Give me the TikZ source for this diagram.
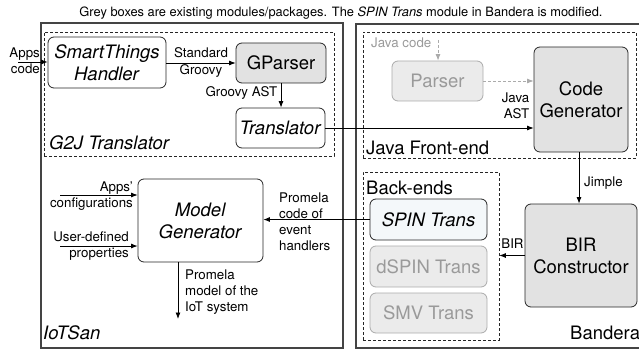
\documentclass[tikz,border=0pt]{standalone}
\usepackage{fontspec}
\setmainfont{TeX Gyre Heros}
\usetikzlibrary{arrows.meta}
\definecolor{boxgrey}{HTML}{E2E2E2}
\definecolor{paleGrey}{HTML}{EBEBEB}
\definecolor{fadeText}{HTML}{9A9A9A}
\definecolor{fadeLine}{HTML}{ABABAB}
\definecolor{spinFill}{HTML}{F4F8FA}
\definecolor{outerLine}{HTML}{444444}
\begin{document}
\begin{tikzpicture}[x=1pt,y=-1pt,
  big/.style={font=\fontsize{18.5}{22}\selectfont},
  small/.style={font=\fontsize{13.3}{16}\selectfont},
  module/.style={draw=black!85,line width=0.8pt,rounded corners=6pt,inner sep=0pt,align=center,big},
  greymod/.style={module,fill=boxgrey},
  oldmod/.style={module,draw=fadeLine,fill=paleGrey,text=fadeText},
  outerbox/.style={draw=outerLine,line width=1.2pt,inner sep=0pt},
  groupbox/.style={draw=black!85,line width=0.7pt,dash pattern=on 3pt off 2pt,inner sep=0pt},
  conn/.style={line width=0.8pt,-{Latex[length=6.5pt,width=5pt]}},
  fadeconn/.style={conn,draw=fadeLine,dash pattern=on 3pt off 2pt,-{Latex[length=6.5pt,width=5pt,fill=fadeLine]}},
  lbl/.style={small,inner sep=0pt,align=center},
  grouplbl/.style={big,inner sep=0pt,anchor=west}
]
\useasboundingbox (0,0) rectangle (639,350);

% title
\node[font=\fontsize{12.85}{15}\selectfont,inner sep=0pt] (title) at (341,13)
  {Grey boxes are existing modules/packages. The \textit{SPIN Trans} module in Bandera is modified.};

% outer containers
\draw[outerbox] (41,23) rectangle (343,348);
\draw[outerbox] (356,24) rectangle (650,348);

% dashed group boxes
\node[groupbox,minimum width=290pt,minimum height=124pt] (g2j) at (189,94) {};
\node[groupbox,minimum width=273pt,minimum height=126pt] (javafe) at (499.5,95) {};
\node[groupbox,minimum width=136pt,minimum height=168pt] (backends) at (431,256) {};

% modules
\node[module,minimum width=118pt,minimum height=51pt] (handler) at (107,62.5) {\textit{SmartThings}\\\textit{Handler}};
\node[greymod,minimum width=90pt,minimum height=40pt] (gparser) at (281,63) {GParser};
\node[module,minimum width=89pt,minimum height=40pt] (translator) at (280.5,128) {\textit{Translator}};
\node[oldmod,minimum width=91pt,minimum height=40pt] (parser) at (437.5,81) {Parser};
\node[greymod,minimum width=94pt,minimum height=105pt] (codegen) at (581,99.5) {Code\\Generator};
\node[greymod,minimum width=112pt,minimum height=103pt] (bir) at (581,255.5) {BIR\\Constructor};
\node[module,fill=spinFill,minimum width=117pt,minimum height=41pt] (spin) at (428.5,219.5) {\textit{SPIN Trans}};
\node[oldmod,minimum width=117pt,minimum height=41pt] (dspin) at (428.5,266.5) {dSPIN Trans};
\node[oldmod,minimum width=117pt,minimum height=40pt] (smv) at (428.5,313) {SMV Trans};
\node[module,minimum width=125pt,minimum height=83pt] (modelgen) at (200.5,220.5) {\textit{Model}\\\textit{Generator}};

% group labels
\node[grouplbl] (g2jlbl) at (49,143) {\textit{G2J Translator}};
\node[grouplbl] (javafelbl) at (366,148) {Java Front-end};
\node[grouplbl] (iotsanlbl) at (43,333) {\textit{IoTSan}};
\node[grouplbl] (backendslbl) at (366,188) {Back-ends};
\node[grouplbl] (banderalbl) at (570,333) {Bandera};

% free ends
\coordinate (appsin) at (18,62);
\coordinate (javain) at (438,40);
\coordinate (cfgin) at (60,195);
\coordinate (propin) at (60,246);
\coordinate (modelout) at (178,319);

% connectors
\draw[conn] (appsin) -- (appsin -| handler.west);
\node[lbl,align=right,anchor=east] (appslbl) at (40,61) {Apps\\code};

\draw[conn] (handler.east |- gparser.west) -- (gparser.west);
\node[lbl,font=\fontsize{13.3}{17}\selectfont] (stdlbl) at (201,62.5) {Standard\\Groovy};

\draw[conn] (gparser.south -| 281,0) -- (translator.north -| 281,0);
\node[lbl,anchor=east] (astlbl) at (277.5,93) {Groovy AST};

\draw[conn] (translator.east) -- (translator.east -| codegen.west);
\node[lbl,align=right,anchor=east] (javaastlbl) at (529.5,106) {Java\\AST};

\draw[fadeconn] (javain) -- (javain |- parser.north);
\node[lbl,text=fadeText,anchor=west] (javacodelbl) at (371,43) {Java code};
\draw[fadeconn] (parser.east) -- (parser.east -| codegen.west);

\draw[conn] (codegen.south -| 579,0) -- (bir.north -| 579,0);
\node[lbl,anchor=west] (jimplelbl) at (584,183) {Jimple};

\draw[conn] (bir.west) -- (bir.west -| backends.east);
\node[lbl] (birlbl) at (512.5,244) {BIR};

\draw[conn] (spin.west) -- (spin.west -| modelgen.east);
\node[lbl,align=left,anchor=west] (promcodelbl) at (279,221.5) {Promela\\code of\\event\\handlers};

\draw[conn] (cfgin) -- (cfgin -| modelgen.west);
\node[lbl,align=right,anchor=east] (cfglbl) at (133,196.5) {Apps'\\configurations};

\draw[conn] (propin) -- (propin -| modelgen.west);
\node[lbl,align=right,anchor=east] (proplbl) at (129,246.5) {User-defined\\properties};

\draw[conn] (modelout |- modelgen.south) -- (modelout);
\node[lbl,align=left,anchor=west] (promodellbl) at (185,292) {Promela\\model of the\\IoT system};
\end{tikzpicture}
\end{document}
